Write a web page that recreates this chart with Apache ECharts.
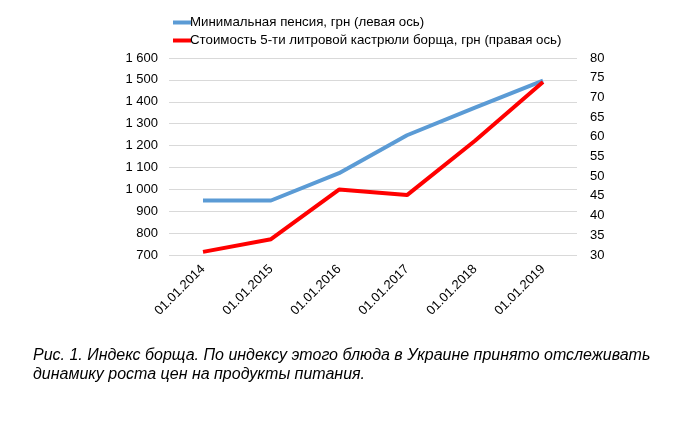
<!DOCTYPE html>
<html><head><meta charset="utf-8">
<script src="https://cdn.jsdelivr.net/npm/echarts@6/dist/echarts.min.js"></script>
<style>html,body{margin:0;padding:0;background:#fff}#c{width:700px;height:423px}</style>
</head><body><div id="c"></div>
<script>
const categories = ['01.01.2014','01.01.2015','01.01.2016','01.01.2017','01.01.2018','01.01.2019'];
const pension = [949, 949, 1074, 1247, 1373, 1497];
const borsch = [30.8, 34.0, 46.6, 45.2, 59.0, 73.9];
const seriesNames = ['Минимальная пенсия, грн (левая ось)', 'Стоимость 5-ти литровой кастрюли борща, грн (правая ось)'];
const caption = 'Рис. 1. Индекс борща. По индексу этого блюда в Украине принято отслеживать\nдинамику роста цен на продукты питания.';

const font = '"Liberation Sans", Arial, sans-serif';
const chart = echarts.init(document.getElementById('c'));
chart.setOption({
  animation: false,
  textStyle: {fontFamily: font},
  title: {
    text: caption, left: 28, top: 341,
    textStyle: {fontFamily: font, fontSize: 16, fontStyle: 'italic', fontWeight: 'normal', color: '#000', lineHeight: 19}
  },
  legend: {
    orient: 'vertical', left: 168, top: 11, itemGap: 5,
    itemWidth: 18, itemHeight: 4, icon: 'rect',
    textStyle: {fontFamily: font, fontSize: 13.3, color: '#000', padding: [0,0,0,-6]},
    data: seriesNames
  },
  grid: {left: 169, right: 123, top: 58, bottom: 168},
  xAxis: {
    type: 'category', data: categories, boundaryGap: true,
    axisLine: {show: false}, axisTick: {show: false},
    axisLabel: {rotate: 45, fontSize: 13, color: '#000', margin: 12, fontFamily: font}
  },
  yAxis: [{
    type: 'value', min: 700, max: 1600, interval: 100,
    axisLine: {show: false}, axisTick: {show: false},
    splitLine: {lineStyle: {color: '#d9d9d9', width: 1}},
    axisLabel: {fontSize: 13, color: '#000', margin: 11, fontFamily: font,
      formatter: v => String(v).replace(/\B(?=(\d{3})+(?!\d))/g, ' ')}
  }, {
    type: 'value', min: 30, max: 80, interval: 5,
    axisLine: {show: false}, axisTick: {show: false}, splitLine: {show: false},
    axisLabel: {fontSize: 13, color: '#000', margin: 13, fontFamily: font}
  }],
  series: [{
    name: seriesNames[0], type: 'line', data: pension, yAxisIndex: 0,
    showSymbol: false, symbol: 'none',
    lineStyle: {color: '#5B9BD5', width: 4}, itemStyle: {color: '#5B9BD5'}
  }, {
    name: seriesNames[1], type: 'line', data: borsch, yAxisIndex: 1,
    showSymbol: false, symbol: 'none',
    lineStyle: {color: '#FF0000', width: 4}, itemStyle: {color: '#FF0000'}
  }]
});
</script></body></html>
